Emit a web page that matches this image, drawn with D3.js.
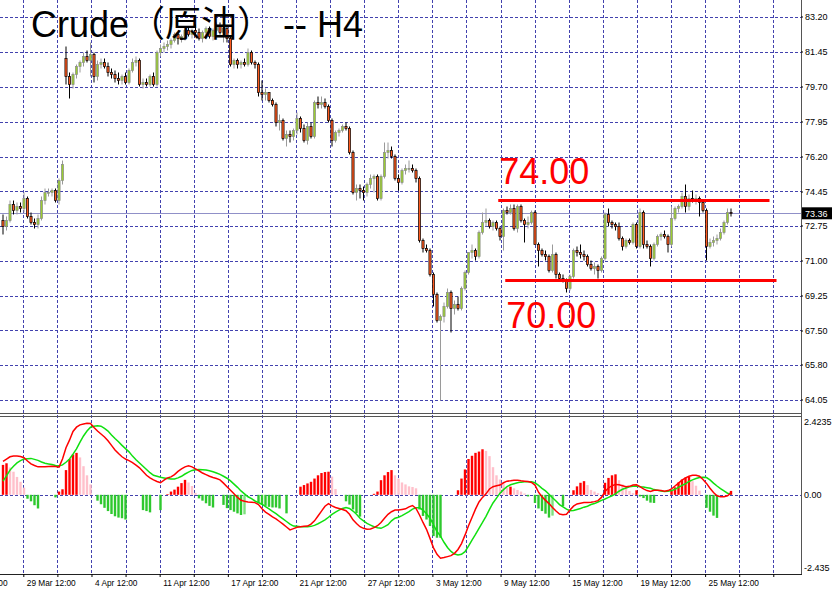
<!DOCTYPE html>
<html>
<head>
<meta charset="utf-8">
<script src="https://d3js.org/d3.v7.min.js"></script>
<style>
  body { margin: 0; background: #fff; }
  svg { display: block; }
  text { font-family: "Liberation Sans", Arial, "Noto Sans CJK SC", sans-serif; }
  .tick text { font-size: 9px; fill: #000; }
  .time .tick text { font-size: 8.3px; }
</style>
</head>
<body>
<script>
// H4 candles, [open, high, low, close]
var candles = [
  [73.0,73.3,72.3,72.7],[72.7,73.2,72.5,73.0],[73.0,74.0,72.9,73.8],[73.8,74.0,73.3,73.5],[73.5,73.9,73.3,73.7],
  [73.7,73.9,73.4,73.6],[73.6,74.4,73.4,74.1],[74.1,74.2,73.1,73.2],[73.2,73.4,72.8,72.9],[72.9,73.1,72.6,72.8],
  [72.8,73.3,72.6,73.1],[73.1,74.2,73.0,74.0],[74.0,74.6,73.8,74.4],[74.4,74.6,74.2,74.4],[74.4,74.6,74.2,74.5],
  [74.5,74.6,73.9,74.0],[74.0,75.1,73.8,75.0],[75.0,76.0,74.8,75.8],
  [81.1,81.7,79.8,80.2],[80.2,80.4,79.1,79.8],[79.8,80.4,79.6,80.3],[80.3,80.8,80.1,80.7],[80.7,81.0,80.4,80.9],
  [80.9,81.4,80.7,81.2],[81.2,81.5,80.9,81.0],[81.0,81.9,80.2,81.3],[81.3,81.4,79.9,80.2],[80.2,81.0,80.0,80.8],
  [80.8,81.1,80.6,80.9],[80.9,81.1,80.6,80.7],[80.7,80.9,80.2,80.4],[80.4,80.6,80.1,80.3],[80.3,80.5,79.9,80.1],
  [80.1,80.4,79.8,80.0],[80.0,80.3,79.8,80.2],[80.2,80.4,79.8,79.9],[79.9,80.6,79.8,80.5],[80.5,81.1,80.4,80.9],
  [80.9,81.2,80.7,81.0],[81.0,81.1,79.7,79.8],[79.8,80.1,79.6,79.9],[79.9,80.1,79.7,79.8],[79.8,80.3,79.7,80.2],
  [80.2,80.4,79.7,79.8],[79.8,81.5,79.7,81.4],[81.4,81.8,81.2,81.6],[81.6,81.9,81.4,81.7],[81.7,82.0,81.5,81.8],
  [81.8,82.1,81.6,82.0],[82.0,82.4,81.9,82.3],[82.3,82.4,81.8,82.1],[82.1,82.3,81.9,82.2],[82.2,82.6,82.0,82.5],
  [82.5,82.7,82.2,82.3],[82.3,82.6,82.1,82.5],[82.5,82.8,82.3,82.4],[82.4,82.6,82.0,82.1],[82.1,82.5,81.9,82.4],
  [82.4,82.7,82.2,82.6],[82.6,82.7,82.1,82.2],[82.2,82.6,82.0,82.5],[82.5,82.9,82.4,82.7],[82.7,82.9,82.3,82.4],
  [82.4,82.7,81.9,82.6],[82.6,82.7,81.9,82.1],[82.1,82.2,80.7,80.8],[80.8,81.1,80.6,81.0],[81.0,81.1,80.6,80.8],
  [80.8,81.0,80.6,80.9],[80.9,81.1,80.7,80.8],[80.8,81.6,80.7,81.4],[81.4,81.5,80.8,80.9],[80.9,81.0,80.6,80.8],
  [80.8,80.9,79.2,79.4],[79.4,80.0,79.0,79.3],[79.3,79.6,79.0,79.4],[79.4,79.4,78.9,79.0],[79.0,79.1,78.7,78.8],
  [78.8,78.9,77.7,77.9],[77.9,78.3,77.5,78.0],[78.0,78.1,77.0,77.1],[77.1,77.5,76.7,77.3],[77.3,77.5,76.9,77.2],
  [77.2,77.6,77.0,77.5],[77.5,78.4,77.3,78.1],[78.1,78.2,77.4,77.6],[77.6,77.8,76.9,77.0],[77.0,77.9,76.8,77.7],
  [77.7,77.9,77.1,77.2],[77.2,79.0,77.1,78.9],[78.9,79.2,78.6,78.8],[78.8,79.2,78.6,78.9],[78.9,79.1,78.6,78.7],
  [78.7,78.8,77.9,78.0],[78.0,78.1,76.7,77.0],[77.0,77.5,76.9,77.4],[77.4,77.6,77.2,77.5],[77.5,77.8,77.4,77.7],
  [77.7,77.9,77.5,77.6],[77.6,77.7,76.3,76.4],[76.4,76.5,74.3,74.4],[74.4,74.8,74.0,74.6],[74.6,74.8,74.1,74.5],
  [74.5,74.7,74.0,74.4],[74.4,74.9,74.2,74.8],[74.8,75.3,74.6,75.1],[75.1,75.3,74.4,75.2],[75.2,75.3,74.0,74.1],
  [74.1,75.3,74.0,75.2],[75.2,76.9,75.1,76.4],[76.4,76.9,76.1,76.5],[76.5,76.7,76.1,76.2],[76.2,76.3,75.0,75.1],
  [75.1,75.3,74.5,74.9],[74.9,75.6,74.8,75.5],[75.5,75.8,75.3,75.6],[75.6,76.0,75.4,75.6],[75.6,75.8,75.4,75.5],
  [75.5,75.6,74.9,75.1],[75.1,75.2,71.9,72.0],[72.0,72.1,71.4,71.6],[71.6,71.8,71.4,71.5],[71.5,71.6,70.2,70.3],
  [70.3,70.4,68.7,69.3],[69.3,69.4,67.9,68.0],[68.0,68.3,64.0,68.2],[68.2,68.9,67.9,68.7],[68.7,69.6,68.6,69.4],
  [69.4,69.5,67.4,68.6],[68.6,69.0,68.3,68.8],[68.8,69.2,68.5,68.6],[68.6,69.7,68.5,69.6],[69.6,70.5,69.5,70.4],
  [70.4,71.4,70.3,71.4],[71.4,71.8,71.1,71.5],[71.5,71.6,71.0,71.2],[71.2,72.5,71.1,72.4],[72.4,73.4,72.3,72.9],
  [72.9,73.6,72.7,73.0],[73.0,73.1,72.6,72.7],[72.7,73.0,72.5,72.9],[72.9,73.0,72.5,72.6],[72.6,72.7,72.0,72.2],
  [72.2,73.6,71.5,73.5],[73.5,73.7,73.3,73.4],[73.4,73.8,73.3,73.6],[73.6,73.8,72.5,72.6],[72.6,73.8,72.4,73.7],
  [73.7,73.8,72.9,73.0],[73.0,73.1,71.9,72.8],[72.8,73.2,72.6,72.9],[72.9,73.5,72.8,73.4],[73.4,73.5,71.8,71.8],
  [71.8,71.9,70.7,71.5],[71.5,71.6,71.2,71.3],[71.3,71.5,71.0,71.2],[71.2,71.3,70.4,70.5],[70.5,71.8,70.4,71.3],
  [71.3,71.4,70.1,70.3],[70.3,70.4,70.0,70.1],[70.1,70.3,69.9,70.0],[70.0,70.1,69.4,69.6],[69.6,70.3,69.5,70.2],
  [70.2,71.6,70.1,71.5],[71.5,71.7,71.2,71.4],[71.4,71.8,71.1,71.3],[71.3,71.5,71.0,71.2],[71.2,71.3,70.7,70.8],
  [70.8,71.0,70.5,70.6],[70.6,70.9,70.3,70.7],[70.7,70.8,70.1,70.5],[70.5,71.2,70.4,71.1],[71.1,73.4,71.0,73.3],
  [73.3,73.6,72.7,72.9],[72.9,73.0,72.6,72.8],[72.8,72.9,72.5,72.7],[72.7,72.9,72.0,72.1],[72.1,72.2,71.5,71.7],
  [71.7,72.1,71.6,72.0],[72.0,72.1,71.8,71.9],[71.9,72.9,71.8,72.8],[72.8,72.9,71.6,71.7],[71.7,73.6,71.6,73.4],
  [73.4,73.5,71.6,71.8],[71.8,72.0,71.6,71.7],[71.7,71.8,70.7,71.1],[71.1,71.9,71.0,71.8],[71.8,72.3,71.7,72.2],
  [72.2,72.4,72.0,72.3],[72.3,72.5,72.1,72.2],[72.2,72.3,71.4,71.8],[71.8,73.7,71.7,73.1],[73.1,73.7,73.0,73.6],
  [73.6,73.8,73.4,73.7],[73.7,74.4,73.6,74.2],[74.2,74.8,73.4,73.7],[73.7,74.3,73.5,74.1],[74.1,74.5,73.9,74.0],
  [74.0,74.3,73.8,74.1],[74.1,74.2,73.2,73.9],[73.9,74.0,73.4,73.5],[73.5,73.6,71.0,71.7],[71.7,72.1,71.6,71.9],
  [71.9,72.2,71.7,72.0],[72.0,72.3,71.8,72.1],[72.1,72.6,72.0,72.4],[72.4,73.0,72.3,72.9],[72.9,73.6,72.8,73.4],
  [73.4,73.6,73.2,73.36]
];

var macdLine = [
  1.03,1.10,1.17,1.19,1.19,1.18,1.14,1.04,0.95,0.90,
  0.86,0.86,0.86,0.87,0.88,0.87,0.85,1.10,1.45,1.68,
  1.95,2.08,2.15,2.18,2.20,2.19,2.07,1.96,1.87,1.78,
  1.66,1.52,1.38,1.27,1.17,1.10,1.05,0.99,0.91,0.83,
  0.72,0.60,0.52,0.46,0.41,0.37,0.45,0.52,0.55,0.62,
  0.72,0.80,0.86,0.89,0.86,0.80,0.74,0.67,0.62,0.57,
  0.53,0.50,0.46,0.36,0.25,0.14,0.03,-0.08,-0.17,-0.20,
  -0.22,-0.23,-0.24,-0.30,-0.43,-0.53,-0.60,-0.68,-0.74,-0.82,
  -0.90,-0.99,-1.08,-1.04,-1.00,-0.98,-0.97,-0.96,-0.90,-0.80,
  -0.65,-0.50,-0.35,-0.27,-0.34,-0.39,-0.42,-0.45,-0.49,-0.60,
  -0.77,-0.88,-0.98,-1.03,-1.06,-1.05,-1.01,-0.95,-0.85,-0.72,
  -0.60,-0.52,-0.47,-0.47,-0.45,-0.43,-0.37,-0.33,-0.42,-0.62,
  -0.85,-1.06,-1.34,-1.63,-1.83,-1.95,-1.93,-1.90,-1.87,-1.80,
  -1.68,-1.50,-1.24,-0.95,-0.70,-0.44,-0.22,-0.08,0.03,0.18,
  0.25,0.28,0.30,0.37,0.42,0.43,0.45,0.45,0.43,0.42,
  0.41,0.38,0.30,0.08,-0.06,-0.17,-0.27,-0.39,-0.50,-0.59,
  -0.61,-0.60,-0.47,-0.35,-0.28,-0.26,-0.24,-0.24,-0.23,-0.21,
  -0.18,-0.08,0.10,0.21,0.28,0.32,0.31,0.28,0.25,0.26,
  0.30,0.31,0.25,0.18,0.13,0.10,0.14,0.14,0.13,0.11,
  0.13,0.18,0.27,0.36,0.45,0.52,0.57,0.60,0.60,0.57,
  0.47,0.35,0.20,0.07,-0.03,-0.06,-0.06,-0.03,0.06
];

var signalLine = [
  0.42,0.58,0.76,0.88,0.98,1.05,1.10,1.11,1.12,1.09,
  1.06,1.01,0.97,0.95,0.93,0.90,0.89,0.92,1.00,1.10,
  1.25,1.41,1.62,1.81,1.96,2.08,2.11,2.12,2.11,2.04,
  1.96,1.84,1.73,1.63,1.52,1.42,1.32,1.19,1.08,0.98,
  0.88,0.78,0.68,0.60,0.57,0.54,0.52,0.50,0.49,0.49,
  0.52,0.57,0.64,0.70,0.75,0.77,0.78,0.77,0.76,0.74,
  0.71,0.67,0.63,0.57,0.51,0.43,0.33,0.23,0.12,0.03,
  -0.06,-0.12,-0.19,-0.24,-0.29,-0.36,-0.43,-0.51,-0.58,-0.66,
  -0.74,-0.82,-0.90,-0.96,-0.97,-0.98,-0.98,-0.98,-0.97,-0.94,
  -0.89,-0.83,-0.77,-0.69,-0.60,-0.53,-0.47,-0.42,-0.39,-0.42,
  -0.50,-0.60,-0.72,-0.80,-0.88,-0.93,-0.98,-1.01,-1.03,-0.98,
  -0.92,-0.80,-0.72,-0.69,-0.64,-0.58,-0.52,-0.44,-0.40,-0.40,
  -0.47,-0.58,-0.72,-0.92,-1.13,-1.27,-1.46,-1.62,-1.74,-1.82,
  -1.85,-1.83,-1.75,-1.58,-1.39,-1.22,-1.03,-0.85,-0.66,-0.45,
  -0.25,-0.10,0.05,0.16,0.25,0.31,0.34,0.37,0.39,0.40,
  0.40,0.40,0.37,0.29,0.20,0.12,0.02,-0.09,-0.19,-0.30,
  -0.37,-0.44,-0.49,-0.48,-0.45,-0.42,-0.38,-0.35,-0.30,-0.27,
  -0.22,-0.17,-0.13,-0.08,-0.03,0.03,0.11,0.17,0.21,0.25,
  0.26,0.27,0.25,0.24,0.22,0.20,0.16,0.14,0.12,0.10,
  0.11,0.13,0.17,0.23,0.29,0.34,0.41,0.46,0.50,0.53,
  0.54,0.53,0.46,0.36,0.27,0.19,0.12,0.05,0.03
];

var histogram = [
  0.92,0.97,0.84,0.71,0.55,0.40,0.22,-0.12,-0.20,-0.32,
  -0.42,0,0,0,0,-0.08,0.10,0.17,0.76,1.10,
  1.24,1.29,1.15,0.88,0.60,0.32,0,-0.18,-0.29,-0.40,
  -0.50,-0.59,-0.66,-0.70,-0.72,-0.76,0,0,0,0,
  -0.47,-0.50,-0.54,0,0,-0.47,0,0.02,0.10,0.16,
  0.25,0.36,0.46,0.38,0.27,0.06,-0.11,-0.18,-0.26,-0.34,
  -0.39,0,0,-0.31,-0.41,-0.47,-0.52,-0.57,-0.62,-0.60,
  0,0,0,-0.26,-0.31,-0.34,-0.37,-0.39,-0.39,-0.42,
  0,-0.57,0,0,0,0.25,0.30,0.35,0.40,0.50,
  0.60,0.67,0.70,0.71,0.56,0.18,0,0,-0.20,-0.30,
  -0.45,-0.56,-0.67,0,0,0,0.03,0.10,0.45,0.60,
  0.70,0.76,0.60,0.50,0.38,0.32,0.26,0.24,0.20,-0.45,
  -0.65,-0.76,-0.96,-1.27,-1.32,-1.32,0,0,0,0,
  0.14,0.50,0.78,1.10,1.20,1.29,1.33,1.40,1.35,1.19,
  0.85,0.60,0.47,0.35,0.22,0.25,0.20,0.15,0.10,0.04,
  -0.05,0,-0.25,-0.42,-0.50,-0.58,-0.70,-0.64,0,0,
  -0.35,0,0,0.14,0.26,0.37,0.42,0.30,0.15,0.10,
  0.05,0,0.37,0.52,0.60,0.63,0.45,0.32,0.24,0.12,
  0.05,0.14,-0.05,-0.10,-0.18,-0.24,-0.25,0,0,0,
  0,0.12,0.23,0.38,0.47,0.53,0.55,0.42,0.28,0.13,
  0,-0.40,-0.52,-0.64,-0.71,0,0,0,0.12
];

var priceTicks = [83.20, 81.45, 79.70, 77.95, 76.20, 74.45, 72.75, 71.00, 69.25, 67.50, 65.80, 64.05];
var macdTicks = [2.4235, 0, -2.435];
var macdTickText = ['2.4235', '0.00', '-2.435'];
var timeLabels = ['26 Mar 12:00', '29 Mar 12:00', '4 Apr 12:00', '11 Apr 12:00', '17 Apr 12:00', '21 Apr 12:00',
  '27 Apr 12:00', '3 May 12:00', '9 May 12:00', '15 May 12:00', '19 May 12:00', '25 May 12:00'];
var levels = [74, 70];
var levelText = ['74.00', '70.00'];
var levelFrom = [141.5, 143.5];
var levelTo = [219, 221];
var lastPrice = 73.36;
var title = 'Crude（原油） -- H4';

var W = 832, H = 590, axisX = 801;
var mainBottom = 413, macdTop = 416, macdBottom = 574;

var svg = d3.select('body').append('svg').attr('width', W).attr('height', H);

var x = d3.scaleLinear().domain([0, candles.length - 1]).range([3, 731]);
var y = d3.scaleLinear().domain([63.425, 84.025]).range([412, 0]);
var ym = d3.scaleLinear().domain([-2.435, 2.4235]).range([macdBottom, macdTop]);

// grid every ~10 bars, label every other one
var gridStart = 5.8, gridStep = 9.74;
var gridBars = d3.range(-2, 23).map(function(k){ return gridStart + k * gridStep });

var defs = svg.append('defs');
defs.append('clipPath').attr('id', 'mainClip').append('rect')
  .attr('x', 0).attr('y', 0).attr('width', axisX).attr('height', mainBottom);
defs.append('clipPath').attr('id', 'macdClip').append('rect')
  .attr('x', 0).attr('y', macdTop).attr('width', axisX).attr('height', macdBottom - macdTop);

var gridColor = '#2222a0';

// grids
var grid = svg.append('g').attr('stroke', gridColor).attr('stroke-dasharray', '3,2')
  .attr('shape-rendering', 'crispEdges').attr('opacity', 0.85);
grid.selectAll('line.h').data(priceTicks).join('line')
  .attr('x1', 0).attr('x2', axisX).attr('y1', function(d){ return Math.round(y(d)) + 0.5 })
  .attr('y2', function(d){ return Math.round(y(d)) + 0.5 });
grid.selectAll('line.v').data(gridBars.filter(function(b){ return x(b) > 0 })).join('line')
  .attr('x1', function(d){ return Math.round(x(d)) + 0.5 }).attr('x2', function(d){ return Math.round(x(d)) + 0.5 })
  .attr('y1', 0).attr('y2', macdBottom);
grid.append('line').attr('x1', 0).attr('x2', axisX)
  .attr('y1', Math.round(ym(0)) + 0.5).attr('y2', Math.round(ym(0)) + 0.5);

// last price line
svg.append('line').attr('x1', 0).attr('x2', axisX)
  .attr('y1', Math.round(y(lastPrice)) + 0.5).attr('y2', Math.round(y(lastPrice)) + 0.5)
  .attr('stroke', '#9090c8').attr('shape-rendering', 'crispEdges');

// candles
var isUp = function(d){ return d[3] >= d[0] };
var cg = svg.append('g').attr('clip-path', 'url(#mainClip)')
  .selectAll('g').data(candles).join('g');
cg.append('line')
  .attr('x1', function(d, i){ return x(i) }).attr('x2', function(d, i){ return x(i) })
  .attr('y1', function(d){ return y(d[1]) }).attr('y2', function(d){ return y(d[2]) })
  .attr('stroke', function(d){ return isUp(d) ? '#9a9a9a' : '#000' }).attr('stroke-width', 1);
cg.append('rect')
  .attr('x', function(d, i){ return x(i) - 1.1 }).attr('width', 2.2)
  .attr('y', function(d){ return y(Math.max(d[0], d[3])) })
  .attr('height', function(d){ return Math.max(0.8, Math.abs(y(d[0]) - y(d[3]))) })
  .attr('fill', function(d){ return isUp(d) ? '#9acd32' : '#ff5a1e' })
  .attr('stroke', function(d){ return isUp(d) ? '#8a8a8a' : '#000' }).attr('stroke-width', 0.7);

// support / resistance
levels.forEach(function(p, i){
  svg.append('line').attr('x1', x(levelFrom[i])).attr('x2', x(levelTo[i]))
    .attr('y1', y(p)).attr('y2', y(p)).attr('stroke', '#ff0000').attr('stroke-width', 3);
  svg.append('text').attr('x', x(levelFrom[i]) + 1)
    .attr('y', i === 0 ? y(p) - 17 : y(p) + 47)
    .attr('font-size', 36).attr('fill', '#ff0000').text(levelText[i]);
});

// title
svg.append('text').attr('x', 31).attr('y', 37).attr('font-size', 36).attr('fill', '#000').text(title);

// MACD
var mg = svg.append('g').attr('clip-path', 'url(#macdClip)');
mg.selectAll('rect').data(histogram).join('rect')
  .attr('x', function(d, i){ return x(i) - 1.2 }).attr('width', 2.4)
  .attr('y', function(d){ return Math.min(ym(d), ym(0)) })
  .attr('height', function(d){ return Math.abs(ym(d) - ym(0)) })
  .attr('fill', function(d, i){
    var prev = i > 0 ? histogram[i - 1] : 0;
    if (d >= 0) return d >= prev ? '#ff0000' : '#ffc0cb';
    return d <= prev ? '#2ec82e' : '#7ee07e';
  });
var lineGen = d3.line().x(function(d, i){ return x(i) }).y(function(d){ return ym(d) });
mg.append('path').datum(signalLine).attr('d', lineGen)
  .attr('fill', 'none').attr('stroke', '#10e010').attr('stroke-width', 1.5);
mg.append('path').datum(macdLine).attr('d', lineGen)
  .attr('fill', 'none').attr('stroke', '#ff0000').attr('stroke-width', 1.5);

// frame lines
var frame = svg.append('g').attr('stroke', '#555').attr('shape-rendering', 'crispEdges');
frame.append('line').attr('x1', axisX + 0.5).attr('x2', axisX + 0.5).attr('y1', 0).attr('y2', macdBottom);
frame.append('line').attr('x1', 0).attr('x2', axisX).attr('y1', mainBottom + 0.5).attr('y2', mainBottom + 0.5);
frame.append('line').attr('x1', 0).attr('x2', axisX).attr('y1', macdTop + 0.5).attr('y2', macdTop + 0.5);
frame.append('line').attr('x1', 0).attr('x2', axisX + 1).attr('y1', macdBottom + 0.5).attr('y2', macdBottom + 0.5)
  .attr('stroke', '#222');

// price axis
var yAxis = d3.axisRight(y).tickValues(priceTicks).tickFormat(d3.format('.2f')).tickSize(2).tickPadding(2);
var ya = svg.append('g').attr('transform', 'translate(' + axisX + ',0)').call(yAxis);
ya.select('.domain').remove();

// last price tag
svg.append('rect').attr('x', axisX + 1).attr('y', y(lastPrice) - 6).attr('width', 30).attr('height', 12).attr('fill', '#000');
svg.append('text').attr('x', axisX + 4).attr('y', y(lastPrice) + 3.5).attr('font-size', 9).attr('fill', '#fff')
  .text(d3.format('.2f')(lastPrice));

// macd axis
svg.append('g').selectAll('text').data(macdTicks).join('text')
  .attr('x', axisX + 3)
  .attr('y', function(d, i){ return ym(d) + (i === 0 ? 9 : i === 2 ? -3 : 3.5) })
  .attr('font-size', 9).text(function(d, i){ return macdTickText[i] });

// time axis
var labelled = gridBars.filter(function(b, k){ return k % 2 === 0 });
var xAxis = d3.axisBottom(x).tickValues(gridBars).tickSize(3).tickPadding(3)
  .tickFormat(function(d){
    var k = labelled.indexOf(d);
    return k >= 0 ? timeLabels[k] : '';
  });
var xa = svg.append('g').attr('class', 'time').attr('transform', 'translate(0,' + macdBottom + ')').call(xAxis);
xa.select('.domain').remove();
xa.selectAll('.tick text').attr('text-anchor', 'start').attr('dx', 0).attr('x', 3);
</script>
</body>
</html>
